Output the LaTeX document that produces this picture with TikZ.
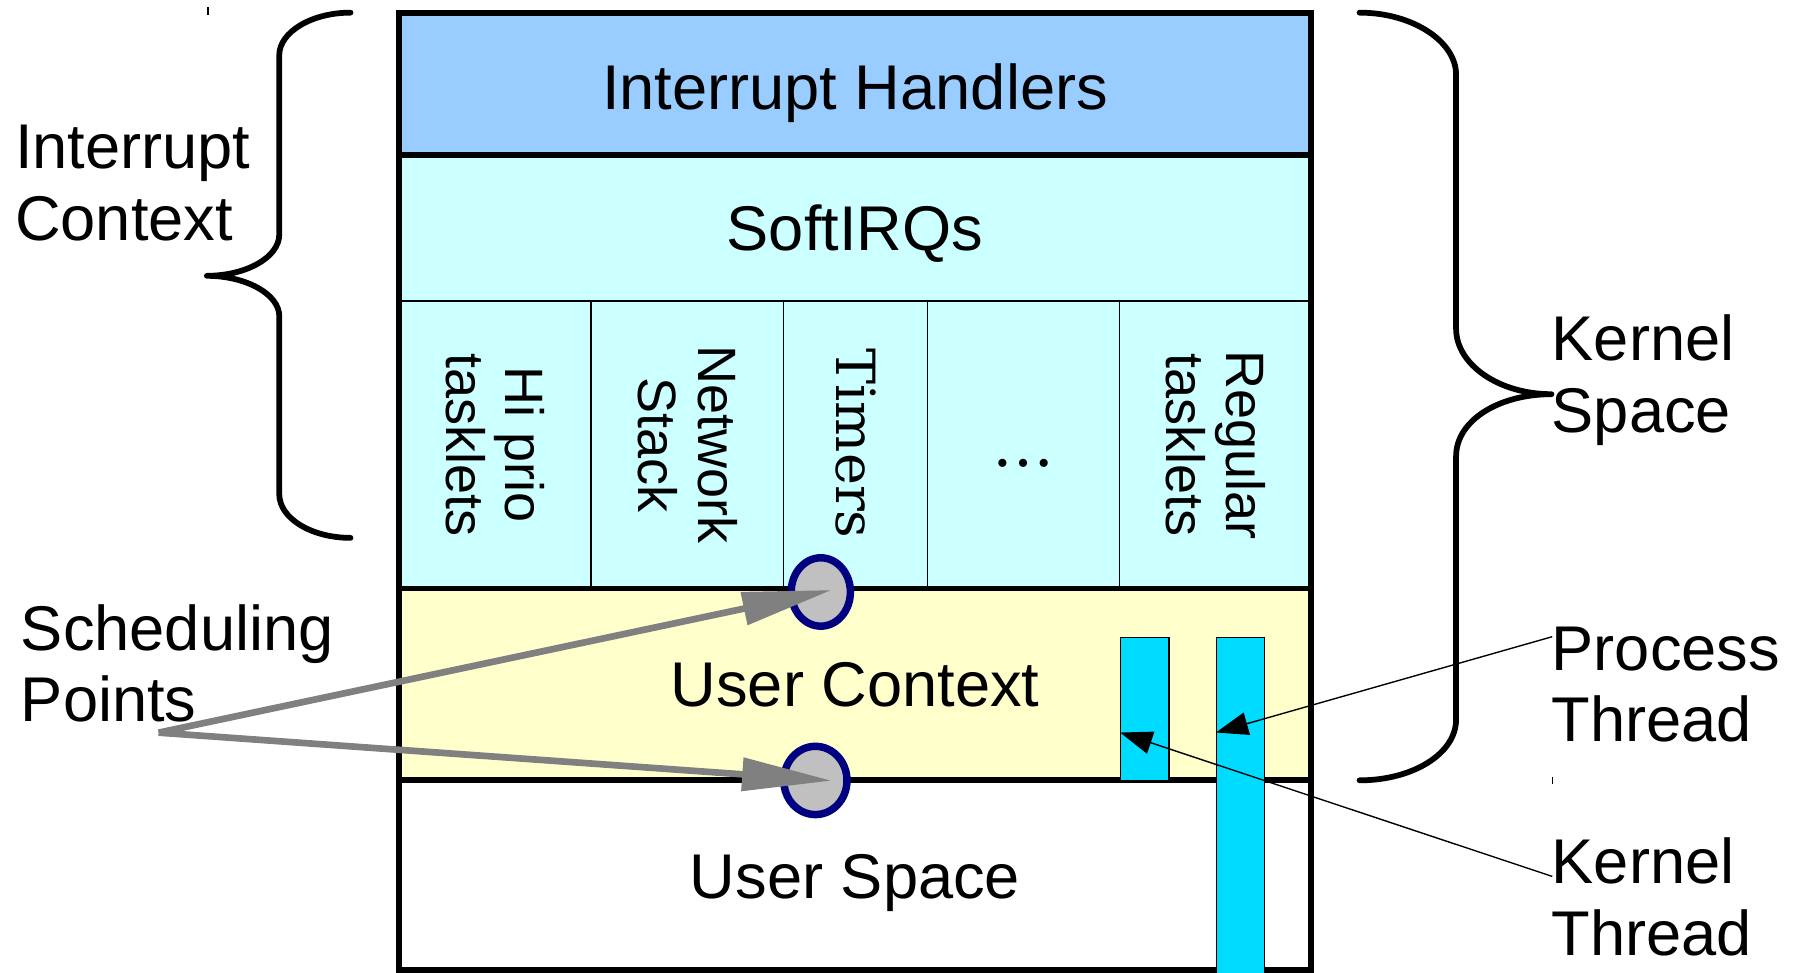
\documentclass[tikz,border=0pt]{standalone}
\usepackage{fontspec}
\setmainfont{Liberation Sans}
\newfontfamily\timerfont{DejaVu Serif}
\usetikzlibrary{shapes.geometric,arrows.meta,calc}
\definecolor{ihblue}{HTML}{99CCFF}
\definecolor{softcyan}{HTML}{CCFFFF}
\definecolor{ucyellow}{HTML}{FFFFCC}
\definecolor{barcyan}{HTML}{00DCFF}
\definecolor{spgray}{HTML}{C0C0C0}
\definecolor{spnavy}{HTML}{000080}
\definecolor{arrgray}{HTML}{808080}
\newcommand{\bigfont}{\fontsize{55}{62}\selectfont}
\newcommand{\colfont}{\fontsize{47}{52}\selectfont}
\newcommand{\twoline}[2]{\begin{tabular}[t]{@{}l@{}}#1\\#2\end{tabular}}
\begin{document}
\begin{tikzpicture}[x=1pt,y=-1pt,
  thickln/.style={line width=5pt},
  thinln/.style={line width=1.2pt},
  bigtext/.style={font=\bigfont, inner sep=0pt},
  coltext/.style={font=\colfont, inner sep=0pt, align=center, rotate=-90},
  sidelabel/.style={font=\bigfont, inner sep=0pt, anchor=base west},
  sched/.style={ellipse, draw=spnavy, fill=spgray, line width=6.5pt, inner sep=0pt},
  threadbar/.style={rectangle, draw=black, fill=barcyan, line width=1pt, inner sep=0pt, anchor=north west, minimum width=42pt},
  grayarrow/.style={draw=arrgray, line width=5.8pt, -{Triangle[length=78pt,width=28pt]}},
  thinarrow/.style={draw=black, line width=1.2pt, -{Triangle[length=28pt,width=20pt]}},
  bracestyle/.style={line width=5pt, line cap=round, line join=round}
]
\useasboundingbox (0,0) rectangle (1568,846);

% band fills
\fill[ihblue] (347,11) rectangle (1141,135);
\fill[softcyan] (347,135) rectangle (1141,512);
\fill[ucyellow] (347,512) rectangle (1141,679);
\fill[white] (347,679) rectangle (1141,844);

% thin separators
\draw[thinln] (347,262) -- (1141,262);
\foreach \xx in {514.3,681.8,807,974}
  \draw[thinln] (\xx,262) -- (\xx,512);

% thick frame and separators
\draw[thickln] (347,11) rectangle (1141,844);
\draw[thickln] (347,135) -- (1141,135);
\draw[thickln] (347,512) -- (1141,512);
\draw[thickln] (347,679) -- (1141,679);

% band labels
\node[bigtext, anchor=base] (ih) at (744,95) {Interrupt Handlers};
\node[bigtext, anchor=base] (sirq) at (744,218) {SoftIRQs};
\node[bigtext, anchor=base] (uc) at (744,615) {User Context};
\node[bigtext, anchor=base] (us) at (744,781.5) {User Space};

% softirq columns
\node[coltext] (c1) at (431,387) {Hi prio\\tasklets};
\node[coltext] (c2) at (598.5,387) {Network\\Stack};
\node[coltext, font=\timerfont\colfont] (c3) at (745,386) {Timers};
\node[font=\timerfont\fontsize{54}{60}\selectfont, inner sep=0pt] (c4) at (890.5,403.2) {…};
\node[coltext] (c5) at (1058,387) {Regular\\tasklets};

% scheduling points
\node[sched, minimum width=51.5pt, minimum height=59.5pt] (sp1) at (714.2,515.1) {};
\node[sched, minimum width=55pt, minimum height=59.4pt] (sp2) at (709.5,679.1) {};

% thread bars
\node[threadbar, minimum height=124.6pt] (kt) at (974.7,554) {};
\node[threadbar, minimum height=300pt] (pt) at (1058,554) {};

% side labels
\node[sidelabel] (ic) at (13,147) {\twoline{Interrupt}{Context}};
\node[sidelabel] (sp) at (18,566) {\twoline{Scheduling}{Points}};
\node[sidelabel] (ks) at (1350,314) {\twoline{Kernel}{Space}};
\node[sidelabel] (pth) at (1350,583) {\twoline{Process}{Thread}};
\node[sidelabel] (kth) at (1350,769) {\twoline{Kernel}{Thread}};

% braces
\draw[bracestyle] (305,11) .. controls (271,11) and (243,28) .. (243,48)
  -- (243,204) .. controls (243,224) and (214,240) .. (180,240)
  .. controls (214,240) and (243,256) .. (243,275)
  -- (243,430) .. controls (243,451) and (271,468) .. (305,468);
\draw[bracestyle] (1183,11) .. controls (1229,11) and (1267,36) .. (1267,65)
  -- (1267,286) .. controls (1267,317) and (1304,343) .. (1350,343)
  .. controls (1304,343) and (1267,366) .. (1267,397)
  -- (1267,626) .. controls (1267,656) and (1229,679) .. (1183,679);

% tiny marks
\draw[line width=1.2pt] (181,6) -- (181,13);
\draw[line width=1.2pt] (1351,676) -- (1351,682);

% scheduling arrows
\coordinate (spo) at (138,637.5);
\coordinate (t1) at (723.7,513.4);
\coordinate (t2) at (723.7,679.3);
\draw[grayarrow] (spo) -- (t1);
\draw[grayarrow] (spo) -- (t2);

% thread arrows
\coordinate (ps) at (1350.7,554);
\coordinate (ks0) at (1350.7,762.6);
\draw[thinarrow] (ps) -- ([yshift=-83.4pt]pt.north west);
\draw[thinarrow] (ks0) -- ([yshift=-83.4pt]kt.north west);
\end{tikzpicture}
\end{document}
